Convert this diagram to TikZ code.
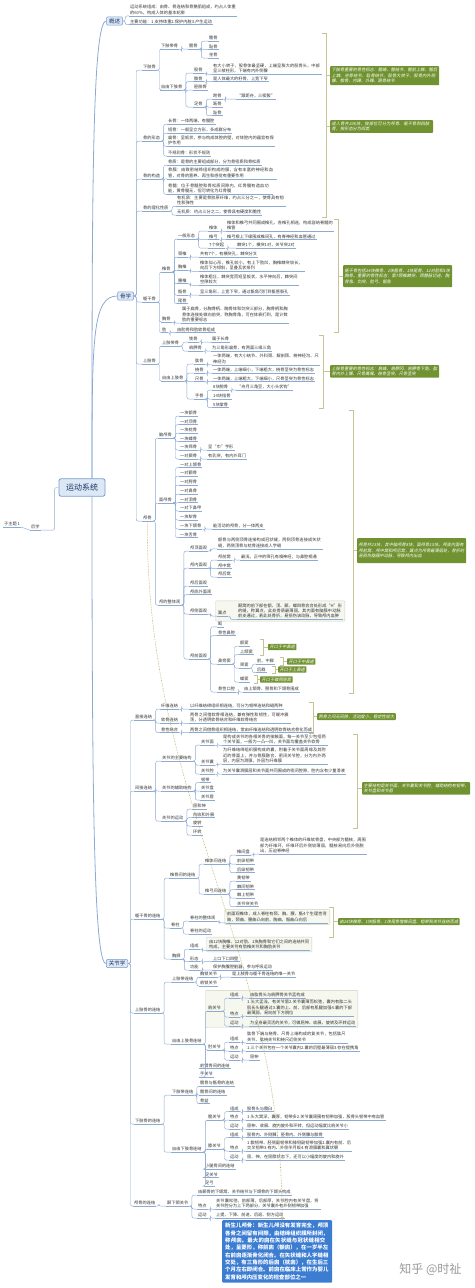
\documentclass[tikz,border=0pt]{standalone}
\usepackage{fontspec}
\setmainfont{Noto Sans CJK SC}
\newfontfamily\sumfamily{Noto Sans CJK SC}[FakeSlant=0.2]
\XeTeXlinebreaklocale "zh"
\XeTeXlinebreakskip = 0pt plus 0.5pt
\usetikzlibrary{arrows.meta,fit,backgrounds}

\definecolor{lineblue}{RGB}{140,170,210}
\definecolor{topicfill}{RGB}{220,232,246}
\definecolor{topicline}{RGB}{120,155,205}
\definecolor{topictext}{RGB}{30,50,95}
\definecolor{sumgreen}{RGB}{112,146,48}
\definecolor{bracecol}{RGB}{200,195,150}
\definecolor{relcol}{RGB}{185,170,95}
\definecolor{notefill}{RGB}{60,125,210}
\definecolor{litefill}{RGB}{246,248,240}
\definecolor{liteline}{RGB}{205,210,190}

\newcommand\leaffont{\fontsize{4.2}{5.4}\selectfont}
\newcommand\sumfont{\sumfamily\fontsize{4.2}{5.6}\selectfont}
\newcommand\notefont{\bfseries\fontsize{5.4}{7.3}\selectfont}

\begin{document}
\begin{tikzpicture}[x=1pt,y=-1pt,
        root/.style={draw=topicline,line width=0.8pt,fill=topicfill,rounded corners=2pt,text=topictext,font=\fontsize{8}{9}\selectfont,inner xsep=7pt,inner ysep=5pt},
        topic/.style={draw=topicline,line width=0.5pt,fill=topicfill,rounded corners=1pt,text=topictext,font=\fontsize{5.5}{6}\selectfont,inner xsep=2.5pt,inner ysep=1.5pt},
        leaf/.style={anchor=west,inner xsep=1pt,inner ysep=1pt,font=\leaffont,text=black!80,align=left,
            append after command={(\tikzlastnode.south west) edge[uline] (\tikzlastnode.south east)}},
        uline/.style={draw=lineblue,line width=0.45pt},
        conn/.style={draw=lineblue,line width=0.45pt,rounded corners=2pt},
        elbow/.style={conn,to path={(\tikztostart.south east) -- ++(2.5,0) |- (\tikztotarget.south west)}},
        boxelbow/.style={conn,to path={(\tikztostart.east) -- ++(2.5,0) |- (\tikztotarget.south west)}},
        mainconn/.style={draw=lineblue,line width=0.8pt},
        summary/.style={anchor=north west,fill=sumgreen,text=white,font=\sumfont,rounded corners=0.8pt,inner sep=1.5pt,align=left},
        tip/.style={anchor=west,fill=sumgreen,text=white,font=\sumfont,rounded corners=0.5pt,inner xsep=1.5pt,inner ysep=1.2pt},
        brace/.style={draw=bracecol,line width=0.5pt},
        litebox/.style={draw=liteline,fill=litefill,rounded corners=1pt,inner sep=1.5pt},
        relation/.style={draw=relcol,line width=0.6pt,densely dotted,-{Stealth[length=3pt,width=3pt]}},
        note/.style={anchor=north west,fill=notefill,text=white,font=\notefont,text width=104pt,inner sep=3pt,rounded corners=1pt,align=left}]

    \useasboundingbox (0,0) rectangle (474,1288);

    % Root and the side topic
    \node[root] (root) at (82,487.5) {运动系统};
    \node[leaf] (hx) at (30,527) {后学};
    \node[leaf] (zt1) at (3,524) {子主题 1};

    % Overview
    \node[topic] (gaishu) at (114.5,21) {概述};
    \node[leaf,text width=106pt] (gs1) at (129,10) {运动系统组成：由骨、骨连结和骨骼肌组成，约占人体重的60\%，构成人体的基本轮廓};
    \node[leaf] (gs2) at (129,21.5) {主要功能：1.支持体重2.保护内脏3.产生运动};

    % Osteology
    \node[topic] (guxue) at (125.5,296) {骨学};

    % Lower limb bones
    \node[leaf] (xzg) at (142,67) {下肢骨};
    \node[leaf] (xzdg) at (160,46) {下肢带骨};
    \node[leaf] (kg) at (188,46) {髋骨};
    \node[leaf] (qg) at (208,38) {髂骨};
    \node[leaf] (cg) at (208,46.5) {耻骨};
    \node[leaf] (zg) at (208,55) {坐骨};
    \node[leaf] (zyxz) at (160,87) {自由下肢骨};
    \node[leaf] (gug) at (193,70) {股骨};
    \node[leaf,text width=108pt] (gugd) at (212,68.5) {有大小转子，股骨体最坚硬，上端呈膨大的股骨头，中部呈三棱柱形，下端有内外侧髁};
    \node[leaf] (bg) at (193,78.5) {髌骨};
    \node[leaf] (bgd) at (212,78.5) {是人体最大的籽骨，上宽下窄};
    \node[leaf] (jfg) at (193,87) {胫腓骨};
    \node[leaf] (zug) at (193,104) {足骨};
    \node[leaf] (fg) at (212,96) {跗骨};
    \node[leaf] (fgd) at (236,96) {“跟距舟，三楔骰”};
    \node[leaf] (zhig) at (212,104) {跖骨};
    \node[leaf] (zhg) at (212,112.5) {趾骨};

    % Shape of bones
    \node[leaf] (gxt) at (142,138) {骨的形态};
    \node[leaf] (cgu) at (167,121) {长骨：一体两端，有髓腔};
    \node[leaf] (dgu) at (167,130) {短骨：一般呈立方形，多成群分布};
    \node[leaf,text width=106pt] (bgu) at (167,140.5) {扁骨：呈板状，参与构成体腔的壁，对体腔内的器官有保护作用};
    \node[leaf] (bgz) at (167,153) {不规则骨：形状不规则};

    % Structure of bones
    \node[leaf] (ggz) at (142,176) {骨的构造};
    \node[leaf] (gz) at (167,162) {骨质：是骨的主要组成部分，分为骨密质和骨松质};
    \node[leaf,text width=108pt] (gm) at (167,173) {骨膜：由致密结缔组织构成的膜，含有丰富的神经和血管，对骨的营养、再生和感觉有重要作用};
    \node[leaf,text width=104pt] (gsu) at (167,188.5) {骨髓：位于骨髓腔和骨松质间隙内，红骨髓有造血功能，黄骨髓无，但可转化为红骨髓};

    % Chemistry of bones
    \node[leaf] (glh) at (142,208) {骨的理化性质};
    \node[leaf,text width=108pt] (yjz) at (176,200.5) {有机质：主要是骨胶原纤维，约占三分之一，使骨具有韧性和弹性};
    \node[leaf] (wjz) at (176,212) {无机质：约占三分之二，使骨具有硬度和脆性};

    % Trunk bones
    \node[leaf] (qgg) at (142,299) {躯干骨};
    \node[leaf] (zgu1) at (161,269) {椎骨};
    \node[leaf] (ybxt) at (177,236) {一般形态};
    \node[leaf] (zt) at (208,228) {椎体};
    \node[leaf,text width=106pt] (ztd) at (226,225.5) {椎体和椎弓共同围成椎孔，各椎孔相连，构成容纳脊髓的椎管};
    \node[leaf] (zgo) at (208,236.5) {椎弓};
    \node[leaf] (zgd) at (226,236.5) {椎弓根上下缘围成椎间孔，有脊神经和血管通过};
    \node[leaf] (tq) at (208,245) {7个突起};
    \node[leaf] (tqd) at (236,245) {棘突1个，横突1对，关节突2对};
    \node[leaf] (jz) at (177,254) {颈椎};
    \node[leaf] (jzd) at (199,254) {共有7个，有横突孔，棘突分叉};
    \node[leaf] (xz) at (177,267) {胸椎};
    \node[leaf,text width=104pt] (xzd) at (199,265.5) {椎体似心形，椎孔较小，有上下肋凹，胸椎棘突较长，向后下方倾斜，呈叠瓦状排列};
    \node[leaf] (yz) at (177,280.5) {腰椎};
    \node[leaf,text width=98pt] (yzd) at (199,279.5) {椎体粗壮，棘突宽而短呈板状，水平伸向后，棘突间空隙较大};
    \node[leaf] (dg) at (177,292) {骶骨};
    \node[leaf] (dgd) at (199,292) {呈三角形，上宽下窄，通过骶角可扪到骶管裂孔};
    \node[leaf] (wg) at (177,300.5) {尾骨};
    \node[leaf] (xg) at (161,319) {胸骨};
    \node[leaf,text width=106pt] (xgd) at (181,314.5) {属于扁骨，分胸骨柄、胸骨体和剑突三部分，胸骨柄和胸骨体连接处微向前突，称胸骨角，可在体表扪到，是计数肋的重要标志};
    \node[leaf] (lei) at (161,329.5) {肋};
    \node[leaf] (leid) at (176,329.5) {由肋骨和肋软骨组成};

    % Upper limb bones
    \node[leaf] (szg) at (142,361) {上肢骨};
    \node[leaf] (szdg) at (161,343) {上肢带骨};
    \node[leaf] (sg) at (188,339) {锁骨};
    \node[leaf] (sgd) at (211,339) {属于长骨};
    \node[leaf] (jjg) at (188,348) {肩胛骨};
    \node[leaf] (jjgd) at (211,348) {为三角形扁骨，有两面三缘三角};
    \node[leaf] (zysz) at (161,378) {自由上肢骨};
    \node[leaf] (hg) at (194,361) {肱骨};
    \node[leaf,text width=106pt] (hgd) at (212,359) {一体两端，有大小结节、外科颈、解剖颈、桡神经沟、尺神经沟};
    \node[leaf] (rg) at (194,370) {桡骨};
    \node[leaf] (rgd) at (212,370) {一体两端，上端细小，下端粗大，桡骨茎突为骨性标志};
    \node[leaf] (cgg) at (194,378.5) {尺骨};
    \node[leaf] (cggd) at (212,378.5) {一体两端，上端粗大，下端细小，尺骨茎突为骨性标志};
    \node[leaf] (sgu) at (194,396) {手骨};
    \node[leaf] (wgu) at (212,387) {8块腕骨};
    \node[leaf] (wgud) at (236,387) {“舟月三角豆，大小头状钩”};
    \node[leaf] (zhigu) at (212,396) {14块指骨};
    \node[leaf] (zgu) at (212,404.5) {5块掌骨};

    % Skull
    \node[leaf] (lg) at (142,518) {颅骨};
    \node[leaf] (nlg) at (158,435) {脑颅骨};
    \node[leaf] (e1) at (179,413) {一块额骨};
    \node[leaf] (e2) at (179,421.5) {一对顶骨};
    \node[leaf] (e3) at (179,430) {一块枕骨};
    \node[leaf] (e4) at (179,438.5) {一块蝶骨};
    \node[leaf] (e5) at (179,447) {一块筛骨};
    \node[leaf] (e5d) at (207,447) {呈“巾”字形};
    \node[leaf] (e6) at (179,456) {一对颞骨};
    \node[leaf] (e6d) at (207,456) {有乳突，有内外耳门};
    \node[leaf] (mlg) at (158,500) {面颅骨};
    \node[leaf] (f1) at (179,464.5) {一对上颌骨};
    \node[leaf] (f2) at (179,473) {一对颧骨};
    \node[leaf] (f3) at (179,482) {一对腭骨};
    \node[leaf] (f4) at (179,491) {一对鼻骨};
    \node[leaf] (f5) at (179,499.5) {一对泪骨};
    \node[leaf] (f6) at (179,508) {一对下鼻甲};
    \node[leaf] (f7) at (179,517) {一块犁骨};
    \node[leaf] (f8) at (179,526) {一块下颌骨};
    \node[leaf] (f8d) at (212,526) {能活动的颅骨，分一体两支};
    \node[leaf] (f9) at (179,534.5) {一块舌骨};
    \node[leaf] (ldz) at (158,602) {颅的整体观};
    \node[leaf] (h1) at (189,548) {颅顶面观};
    \node[leaf,text width=104pt] (h1d) at (217,543) {额骨与两侧顶骨连接构成冠状缝，两侧顶骨连接成矢状缝，两侧顶骨与枕骨连接成人字缝};
    \node[leaf] (h2) at (189,565) {颅内面观};
    \node[leaf] (h21) at (217,557) {颅前窝};
    \node[leaf] (h21d) at (240,557) {最浅，正中的筛孔有嗅神经，与鼻腔相通};
    \node[leaf] (h22) at (217,565.5) {颅中窝};
    \node[leaf] (h23) at (217,574) {颅后窝};
    \node[leaf] (h3) at (189,583) {颅后面观};
    \node[leaf] (h4) at (189,591.5) {颅底外面观};
    \node[leaf] (h5) at (189,611) {颅侧面观};
    \node[leaf] (yd) at (217,613) {翼点};
    \node[leaf,text width=104pt] (ydd) at (237,611) {颞窝的前下部在额、顶、颞、蝶四骨会合处形成“H”形的缝，称翼点，此处骨质最薄弱，其内面有脑膜中动脉前支通过，若此处骨折，易损伤该动脉，导致颅内血肿};
    \node[leaf] (h6) at (189,656) {颅前面观};
    \node[leaf] (k1) at (217,624) {眶};
    \node[leaf] (k2) at (217,632.5) {骨性鼻腔};
    \node[leaf] (k3) at (217,661) {鼻旁窦};
    \node[leaf] (bd1) at (239,643) {额窦};
    \node[leaf] (bd2) at (239,651.5) {上颌窦};
    \node[leaf] (bd3) at (239,665) {筛窦};
    \node[leaf] (q1) at (256,661) {前、中群};
    \node[leaf] (q2) at (256,669.5) {后群};
    \node[leaf] (bd4) at (239,679) {蝶窦};
    \node[leaf] (k4) at (217,689) {骨性口腔};
    \node[leaf] (k4d) at (243,689) {由上颌骨、腭骨和下颌骨围成};
    \node[tip] (t1) at (268,647) {开口于中鼻道};
    \node[tip] (t2) at (287,661.5) {开口于中鼻道};
    \node[tip] (t3) at (278,669.5) {开口于上鼻道};
    \node[tip] (t4) at (260,679.5) {开口于蝶筛隐窝};

    % Summaries of osteology
    \node[summary,text width=106pt,minimum height=19pt] (s1) at (330,66) {下肢骨重要的骨性标志：髂嵴、髂结节、髂前上棘、髂后上棘、坐骨结节、耻骨结节、股骨大转子、股骨内外侧髁、髌骨、内踝、外踝、跟骨结节};
    \node[summary,text width=100pt] (s2) at (330,120) {成人骨共206块，按部位可分为颅骨、躯干骨和四肢骨，按形态分为四类};
    \node[summary,text width=106pt,minimum height=22pt] (s3) at (343,265) {躯干骨包括24块椎骨、1块骶骨、1块尾骨、12对肋和1块胸骨。重要的骨性标志：第7颈椎棘突、颈静脉切迹、胸骨角、剑突、肋弓、骶角};
    \node[summary,text width=106pt] (s4) at (330,365) {上肢骨重要的骨性标志：肩峰、肩胛冈、肩胛骨下角、肱骨内外上髁、尺骨鹰嘴、桡骨茎突、尺骨茎突};
    \node[summary,text width=106pt,minimum height=25pt] (s5) at (357,538) {颅骨共23块，其中脑颅骨8块，面颅骨15块。颅底内面有颅前窝、颅中窝和颅后窝，翼点为颅骨最薄弱处，骨折时易损伤脑膜中动脉，导致颅内出血};

    % Arthrology
    \node[topic] (guanjie) at (117,963.5) {关节学};

    % Direct joints
    \node[leaf] (zjlj) at (134,717) {直接连结};
    \node[leaf] (xw) at (160,706) {纤维连结};
    \node[leaf] (xwd) at (189,706) {以纤维结缔组织相连结，可分为韧带连结和缝两种};
    \node[leaf] (rgl) at (160,720) {软骨连结};
    \node[leaf,text width=100pt] (rgld) at (189,717.5) {两骨之间借软骨相连结，兼有弹性和韧性，可缓冲震荡，分透明软骨结合和纤维软骨结合};
    \node[leaf] (gx) at (160,729.5) {骨性结合};
    \node[leaf] (gxd) at (189,729.5) {两骨之间借骨组织相连结，常由纤维连结和透明软骨结合骨化而成};
    \node[summary] (s6) at (317,713) {两骨之间无间隙，活动度小，稳定性较大};

    % Indirect joints
    \node[leaf] (jjlj) at (134,788) {间接连结};
    \node[leaf] (zyjg) at (161,758) {关节的主要结构};
    \node[leaf] (gjm) at (200,742) {关节面};
    \node[leaf,text width=104pt] (gjmd) at (222,739.5) {是构成关节的各相关骨的接触面，每一关节至少包括两个关节面，一般为一凸一凹，关节面均覆盖关节软骨};
    \node[leaf] (gjn) at (200,762) {关节囊};
    \node[leaf,text width=104pt] (gjnd) at (222,755.5) {为纤维结缔组织膜构成的囊，附着于关节面周缘及其附近的骨面上，并与骨膜融合，密闭关节腔，分为内外两层，内层为滑膜，外层为纤维膜};
    \node[leaf] (gjq) at (200,771) {关节腔};
    \node[leaf] (gjqd) at (222,771) {为关节囊滑膜层和关节面共同围成的密闭腔隙，腔内含有少量滑液};
    \node[leaf] (fzjg) at (161,788) {关节的辅助结构};
    \node[leaf] (rd) at (200,779.5) {韧带};
    \node[leaf] (gjp) at (200,788) {关节盘};
    \node[leaf] (gjc) at (200,797) {关节唇};
    \node[leaf] (gjyd) at (161,818) {关节的运动};
    \node[leaf] (m1) at (192,806) {屈和伸};
    \node[leaf] (m2) at (192,814.5) {内收和外展};
    \node[leaf] (m3) at (192,823) {旋转};
    \node[leaf] (m4) at (192,832) {环转};
    \node[summary,text width=105pt] (s7) at (362,782) {主要结构是关节面、关节囊和关节腔，辅助结构有韧带、关节盘和关节唇};

    % Joints of the trunk
    \node[leaf] (qglj) at (134,916) {躯干骨的连结};
    \node[leaf] (zgj) at (169,875) {椎骨间的连结};
    \node[leaf] (ztj) at (204,861) {椎体间连结};
    \node[leaf] (zjp) at (236,852) {椎间盘};
    \node[leaf,text width=106pt] (zjpd) at (259,845.5) {是连结相邻两个椎体的纤维软骨盘，中央部为髓核，周围部为纤维环，纤维环后外侧较薄弱，髓核易向后外侧脱出，压迫脊神经};
    \node[leaf] (qzr) at (236,861) {前纵韧带};
    \node[leaf] (hzr) at (236,869.5) {后纵韧带};
    \node[leaf] (zgjl) at (204,891) {椎弓间连结};
    \node[leaf] (hr) at (236,878) {黄韧带};
    \node[leaf] (jjr) at (236,886.5) {棘间韧带};
    \node[leaf] (jsr) at (236,895) {棘上韧带};
    \node[leaf] (gjtj) at (236,903.5) {关节突关节};
    \node[leaf] (jzhu) at (170,925) {脊柱};
    \node[leaf] (zzt) at (189,918) {脊柱的整体观};
    \node[leaf,text width=100pt] (zztd) at (226,917) {前面观椎体，成人脊柱有颈、胸、腰、骶4个生理性弯曲，颈曲、腰曲凸向前，胸曲、骶曲凸向后};
    \node[leaf] (zyd) at (189,931) {脊柱的运动};
    \node[summary] (s8) at (338,918) {由24块椎骨、1块骶骨、1块尾骨借椎间盘、韧带和关节连结而成};
    \node[leaf] (xk) at (171,956) {胸廓};
    \node[leaf] (xkzc) at (189,946) {组成};
    \node[leaf,text width=100pt] (xkzcd) at (208,944.5) {由12块胸椎、12对肋、1块胸骨和它们之间的连结共同构成，主要关节有肋椎关节和胸肋关节};
    \node[leaf] (xkxt) at (189,958.5) {形态};
    \node[leaf] (xkxtd) at (212,958.5) {上口下口四壁};
    \node[leaf] (xkgn) at (189,967) {功能};
    \node[leaf] (xkgnd) at (212,967) {保护胸腹腔脏器，参与呼吸运动};

    % Joints of the upper limb
    \node[leaf] (sjlj) at (134,1010) {上肢骨的连结};
    \node[leaf] (szdl) at (171,979) {上肢带连结};
    \node[leaf] (xsgj) at (199,974) {胸锁关节};
    \node[leaf] (xsgjd) at (231,974) {是上肢骨与躯干骨连结的唯一关节};
    \node[leaf] (jsgj) at (199,983) {肩锁关节};
    \node[leaf] (zyszl) at (171,1041) {自由上肢骨连结};
    \node[leaf] (jgj) at (207,1008) {肩关节};
    \node[leaf] (jzc) at (229,995) {组成};
    \node[leaf] (jzcd) at (249,995) {由肱骨头与肩胛骨关节盂构成};
    \node[leaf] (jtd) at (229,1014) {特点};
    \node[leaf,text width=106pt] (jtdd) at (246,1007.5) {1.头大盂浅，有关节唇2.关节囊薄而松弛，囊内有肱二头肌长头腱通过3.囊的上、前、后部有肌腱加强4.囊的下部最薄弱，易向前下方脱位};
    \node[leaf] (jyd) at (229,1023) {运动};
    \node[leaf] (jydd) at (249,1023) {为全身最灵活的关节，可做屈伸、收展、旋转及环转运动};
    \node[leaf] (zgj2) at (207,1047) {肘关节};
    \node[leaf] (zzc) at (229,1039) {组成};
    \node[leaf,text width=100pt] (zzcd) at (246,1037) {肱骨下端与桡骨、尺骨上端构成的复关节，包括肱尺关节、肱桡关节和桡尺近侧关节};
    \node[leaf] (ztd2) at (229,1048) {特点};
    \node[leaf] (ztdd) at (246,1048) {1.三个关节包在一个关节囊内2.囊的后壁最薄弱3.存在提携角};
    \node[leaf] (zyd2) at (229,1057) {运动};
    \node[leaf] (zydd) at (249,1057) {屈伸};
    \node[leaf] (qbg) at (199,1065.5) {前臂骨间的连结};
    \node[leaf] (sgj) at (199,1074) {手关节};

    % Joints of the lower limb
    \node[leaf] (xzlj) at (134,1121) {下肢骨的连结};
    \node[leaf] (xzdl) at (171,1092) {下肢带连结};
    \node[leaf] (kd) at (199,1083) {髋骨与骶骨的连结};
    \node[leaf] (kgj) at (199,1092) {髋骨间的连结};
    \node[leaf] (gp) at (199,1100.5) {骨盆};
    \node[leaf] (zyxzl) at (171,1149) {自由下肢骨连结};
    \node[leaf] (kgj2) at (207,1117) {髋关节};
    \node[leaf] (kzc) at (229,1108.5) {组成};
    \node[leaf] (kzcd) at (246,1108.5) {股骨头与髋臼};
    \node[leaf] (ktd) at (229,1117) {特点};
    \node[leaf] (ktdd) at (246,1117) {1.头大窝深，囊厚，韧带多2.关节囊周围有韧带加强，股骨头韧带中有血管};
    \node[leaf] (kyd) at (229,1126) {运动};
    \node[leaf] (kydd) at (246,1126) {屈伸、收展、旋内旋外和环转，但运动幅度比肩关节小};
    \node[leaf] (xgj) at (207,1146) {膝关节};
    \node[leaf] (xzc) at (229,1134.5) {组成};
    \node[leaf] (xzcd) at (246,1134.5) {股骨内、外侧髁，胫骨内、外侧髁与髌骨};
    \node[leaf] (xtd) at (229,1148) {特点};
    \node[leaf,text width=104pt] (xtdd) at (246,1145.5) {1.髌韧带、胫侧副韧带和腓侧副韧带加强2.囊内有前、后交叉韧带3.有内、外侧半月板4.有滑膜囊和翼状襞};
    \node[leaf] (xyd) at (229,1157) {运动};
    \node[leaf] (xydd) at (246,1157) {屈、伸，在屈膝状态下，还可以小幅度的旋内和旋外};
    \node[leaf] (xtg) at (204,1166) {小腿骨间的连结};
    \node[leaf] (zgj3) at (204,1174.5) {足关节};
    \node[leaf] (zgo2) at (204,1183) {足弓};

    % Joints of the skull
    \node[leaf] (lglj) at (133,1203) {颅骨的连结};
    \node[leaf] (nxh) at (166,1203) {颞下颌关节};
    \node[leaf] (nd1) at (197,1192) {由颞骨的下颌窝、关节结节与下颌骨的下颌头构成};
    \node[leaf] (ntd) at (197,1206) {特点};
    \node[leaf,text width=104pt] (ntdd) at (215,1203.5) {关节囊松弛，前部薄，后部厚，关节腔内有关节盘，将关节腔分为上下两部分，关节囊外有外侧韧带加强};
    \node[leaf] (nyd) at (197,1215) {运动};
    \node[leaf] (nydd) at (215,1215) {上提、下降、前进、后退、侧方运动};

    % Note on the newborn skull
    \node[note] (note) at (222,1220) {新生儿颅骨：新生儿颅没有发育完全，颅顶各骨之间留有间隙，由结缔组织膜所封闭，称颅囟。最大的囟在矢状缝与冠状缝相交处，呈菱形，称前囟（额囟），在一岁半左右前囟逐渐骨化闭合。在矢状缝和人字缝相交处，有三角形的后囟（枕囟），在生后三个月左右即闭合。前囟在临床上常作为婴儿发育和颅内压变化的检查部位之一};

    \node[anchor=east,font=\fontsize{12}{12}\selectfont,text=black!40] (wm) at (465,1269) {知乎 @时祉};

    % Light boxes behind some topics
    \begin{scope}[on background layer]
        \node[litebox,fit=(yd)(ydd)] (ydbox) {};
        \node[litebox,fit=(zztd)] (zzbox) {};
        \node[litebox,fit=(xkzcd)] (xkbox) {};
        \node[litebox,fit=(jgj)(jzcd)(jtdd)(jydd)] (jgbox) {};
    \end{scope}

    % Main branches from the root
    \draw[mainconn] ([xshift=10pt]root.north) .. controls (92,200) and (92,21) .. (gaishu.west);
    \draw[mainconn] ([xshift=10pt]root.north) .. controls (92,340) and (92,296) .. (guxue.west);
    \draw[mainconn] ([xshift=10pt]root.south) .. controls (92,800) and (94,963.5) .. (guanjie.west);
    \draw[conn] (root.west) -- ++(-4,0) |- (hx.south east);
    \draw[conn] (hx.south west) -- (zt1.south east);

    % Overview
    \draw (gaishu) edge[boxelbow] (gs1) edge[boxelbow] (gs2);

    % Osteology
    \draw (guxue) edge[boxelbow] (xzg) edge[boxelbow] (gxt) edge[boxelbow] (ggz) edge[boxelbow] (glh)
        edge[boxelbow] (qgg) edge[boxelbow] (szg) edge[boxelbow] (lg);
    \draw (xzg) edge[elbow] (xzdg) edge[elbow] (zyxz);
    \draw (xzdg) edge[elbow] (kg);
    \draw (kg) edge[elbow] (qg) edge[elbow] (cg) edge[elbow] (zg);
    \draw (zyxz) edge[elbow] (gug) edge[elbow] (bg) edge[elbow] (jfg) edge[elbow] (zug);
    \draw (gug) edge[elbow] (gugd);
    \draw (bg) edge[elbow] (bgd);
    \draw (zug) edge[elbow] (fg) edge[elbow] (zhig) edge[elbow] (zhg);
    \draw (fg) edge[elbow] (fgd);
    \draw (gxt) edge[elbow] (cgu) edge[elbow] (dgu) edge[elbow] (bgu) edge[elbow] (bgz);
    \draw (ggz) edge[elbow] (gz) edge[elbow] (gm) edge[elbow] (gsu);
    \draw (glh) edge[elbow] (yjz) edge[elbow] (wjz);
    \draw (qgg) edge[elbow] (zgu1) edge[elbow] (xg) edge[elbow] (lei);
    \draw (zgu1) edge[elbow] (ybxt) edge[elbow] (jz) edge[elbow] (xz) edge[elbow] (yz) edge[elbow] (dg) edge[elbow] (wg);
    \draw (ybxt) edge[elbow] (zt) edge[elbow] (zgo) edge[elbow] (tq);
    \draw (zt) edge[elbow] (ztd);
    \draw (zgo) edge[elbow] (zgd);
    \draw (tq) edge[elbow] (tqd);
    \draw (jz) edge[elbow] (jzd);
    \draw (xz) edge[elbow] (xzd);
    \draw (yz) edge[elbow] (yzd);
    \draw (dg) edge[elbow] (dgd);
    \draw (xg) edge[elbow] (xgd);
    \draw (lei) edge[elbow] (leid);
    \draw (szg) edge[elbow] (szdg) edge[elbow] (zysz);
    \draw (szdg) edge[elbow] (sg) edge[elbow] (jjg);
    \draw (sg) edge[elbow] (sgd);
    \draw (jjg) edge[elbow] (jjgd);
    \draw (zysz) edge[elbow] (hg) edge[elbow] (rg) edge[elbow] (cgg) edge[elbow] (sgu);
    \draw (hg) edge[elbow] (hgd);
    \draw (rg) edge[elbow] (rgd);
    \draw (cgg) edge[elbow] (cggd);
    \draw (sgu) edge[elbow] (wgu) edge[elbow] (zhigu) edge[elbow] (zgu);
    \draw (wgu) edge[elbow] (wgud);
    \draw (lg) edge[elbow] (nlg) edge[elbow] (mlg) edge[elbow] (ldz);
    \draw (nlg) edge[elbow] (e1) edge[elbow] (e2) edge[elbow] (e3) edge[elbow] (e4) edge[elbow] (e5) edge[elbow] (e6);
    \draw (e5) edge[elbow] (e5d);
    \draw (e6) edge[elbow] (e6d);
    \draw (mlg) edge[elbow] (f1) edge[elbow] (f2) edge[elbow] (f3) edge[elbow] (f4) edge[elbow] (f5)
        edge[elbow] (f6) edge[elbow] (f7) edge[elbow] (f8) edge[elbow] (f9);
    \draw (f8) edge[elbow] (f8d);
    \draw (ldz) edge[elbow] (h1) edge[elbow] (h2) edge[elbow] (h3) edge[elbow] (h4) edge[elbow] (h5) edge[elbow] (h6);
    \draw (h1) edge[elbow] (h1d);
    \draw (h2) edge[elbow] (h21) edge[elbow] (h22) edge[elbow] (h23);
    \draw (h21) edge[elbow] (h21d);
    \draw (h5) edge[elbow] (yd);
    \draw (yd) edge[elbow] (ydd);
    \draw (h6) edge[elbow] (k1) edge[elbow] (k2) edge[elbow] (k3) edge[elbow] (k4);
    \draw (k3) edge[elbow] (bd1) edge[elbow] (bd2) edge[elbow] (bd3) edge[elbow] (bd4);
    \draw (bd3) edge[elbow] (q1) edge[elbow] (q2);
    \draw (k4) edge[elbow] (k4d);

    % Brackets of osteology
    \draw[brace] (322,33) -- (326,33) -- (326,217) -- (322,217);
    \draw[brace] (s1.west) -- ++(-4,0);
    \draw[brace] (s2.west) -- ++(-4,0);
    \draw[brace] (334,219) -- (338,219) -- (338,332) -- (334,332);
    \draw[brace] (s3.west) -- ++(-5,0);
    \draw[brace] (319,335) -- (323,335) -- (323,408) -- (319,408);
    \draw[brace] (s4.west) -- ++(-7,0);
    \draw[brace] (349,410) -- (353,410) -- (353,693) -- (349,693);
    \draw[brace] (s5.west) -- ++(-4,0);
    \draw[brace] (260,639) -- (263,639) -- (263,655) -- (260,655);
    \draw[brace] (t1.west) -- ++(-5,0);
    \draw[brace] (280,657) -- (283,657) -- (283,665) -- (280,665);
    \draw[brace] (t2.west) -- ++(-4,0);
    \draw[brace] (272,666) -- (275,666) -- (275,673) -- (272,673);
    \draw[brace] (t3.west) -- ++(-3,0);
    \draw[brace] (254,675) -- (257,675) -- (257,683) -- (254,683);
    \draw[brace] (t4.west) -- ++(-3,0);

    % Arthrology
    \draw (guanjie) edge[boxelbow] (zjlj) edge[boxelbow] (jjlj) edge[boxelbow] (qglj) edge[boxelbow] (sjlj)
        edge[boxelbow] (xzlj) edge[boxelbow] (lglj);
    \draw (zjlj) edge[elbow] (xw) edge[elbow] (rgl) edge[elbow] (gx);
    \draw (xw) edge[elbow] (xwd);
    \draw (rgl) edge[elbow] (rgld);
    \draw (gx) edge[elbow] (gxd);
    \draw (jjlj) edge[elbow] (zyjg) edge[elbow] (fzjg) edge[elbow] (gjyd);
    \draw (zyjg) edge[elbow] (gjm) edge[elbow] (gjn) edge[elbow] (gjq);
    \draw (gjm) edge[elbow] (gjmd);
    \draw (gjn) edge[elbow] (gjnd);
    \draw (gjq) edge[elbow] (gjqd);
    \draw (fzjg) edge[elbow] (rd) edge[elbow] (gjp) edge[elbow] (gjc);
    \draw (gjyd) edge[elbow] (m1) edge[elbow] (m2) edge[elbow] (m3) edge[elbow] (m4);
    \draw (qglj) edge[elbow] (zgj) edge[elbow] (jzhu) edge[elbow] (xk);
    \draw (zgj) edge[elbow] (ztj) edge[elbow] (zgjl);
    \draw (ztj) edge[elbow] (zjp) edge[elbow] (qzr) edge[elbow] (hzr);
    \draw (zjp) edge[elbow] (zjpd);
    \draw (zgjl) edge[elbow] (hr) edge[elbow] (jjr) edge[elbow] (jsr) edge[elbow] (gjtj);
    \draw (jzhu) edge[elbow] (zzt) edge[elbow] (zyd);
    \draw (zzt) edge[elbow] (zztd);
    \draw (xk) edge[elbow] (xkzc) edge[elbow] (xkxt) edge[elbow] (xkgn);
    \draw (xkzc) edge[elbow] (xkzcd);
    \draw (xkxt) edge[elbow] (xkxtd);
    \draw (xkgn) edge[elbow] (xkgnd);
    \draw (sjlj) edge[elbow] (szdl) edge[elbow] (zyszl);
    \draw (szdl) edge[elbow] (xsgj) edge[elbow] (jsgj);
    \draw (xsgj) edge[elbow] (xsgjd);
    \draw (zyszl) edge[elbow] (jgj) edge[elbow] (zgj2) edge[elbow] (qbg) edge[elbow] (sgj);
    \draw (jgj) edge[elbow] (jzc) edge[elbow] (jtd) edge[elbow] (jyd);
    \draw (jzc) edge[elbow] (jzcd);
    \draw (jtd) edge[elbow] (jtdd);
    \draw (jyd) edge[elbow] (jydd);
    \draw (zgj2) edge[elbow] (zzc) edge[elbow] (ztd2) edge[elbow] (zyd2);
    \draw (zzc) edge[elbow] (zzcd);
    \draw (ztd2) edge[elbow] (ztdd);
    \draw (zyd2) edge[elbow] (zydd);
    \draw (xzlj) edge[elbow] (xzdl) edge[elbow] (zyxzl);
    \draw (xzdl) edge[elbow] (kd) edge[elbow] (kgj) edge[elbow] (gp);
    \draw (zyxzl) edge[elbow] (kgj2) edge[elbow] (xgj) edge[elbow] (xtg) edge[elbow] (zgj3) edge[elbow] (zgo2);
    \draw (kgj2) edge[elbow] (kzc) edge[elbow] (ktd) edge[elbow] (kyd);
    \draw (kzc) edge[elbow] (kzcd);
    \draw (ktd) edge[elbow] (ktdd);
    \draw (kyd) edge[elbow] (kydd);
    \draw (xgj) edge[elbow] (xzc) edge[elbow] (xtd) edge[elbow] (xyd);
    \draw (xzc) edge[elbow] (xzcd);
    \draw (xtd) edge[elbow] (xtdd);
    \draw (xyd) edge[elbow] (xydd);
    \draw (lglj) edge[elbow] (nxh);
    \draw (nxh) edge[elbow] (nd1) edge[elbow] (ntd) edge[elbow] (nyd);
    \draw (ntd) edge[elbow] (ntdd);
    \draw (nyd) edge[elbow] (nydd);

    % Brackets of arthrology
    \draw[brace] (309,702) -- (313,702) -- (313,733) -- (309,733);
    \draw[brace] (s6.west) -- ++(-4,0);
    \draw[brace] (353,734) -- (357,734) -- (357,828) -- (353,828);
    \draw[brace] (s7.west) -- ++(-5,0);
    \draw[brace] (329,907) -- (333,907) -- (333,937) -- (329,937);
    \draw[brace] (s8.west) -- ++(-5,0);

    % Relation from the skull to the note
    \draw[relation] (lg.south) .. controls (145,800) and (282,950) .. ([xshift=5pt]note.north);
\end{tikzpicture}
\end{document}
